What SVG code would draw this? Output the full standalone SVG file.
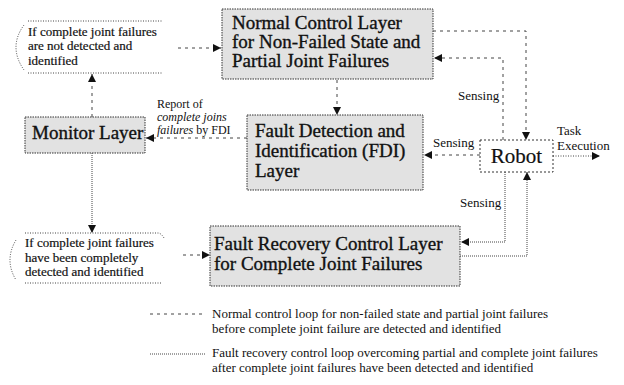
<svg xmlns="http://www.w3.org/2000/svg" width="624" height="385" viewBox="0 0 624 385" font-family="'Liberation Serif', 'Times New Roman', Times, serif">
<style>
.box{fill:#e2e2e2;stroke:#333;stroke-width:1;stroke-dasharray:1.5 1}
.robot{fill:#fff;stroke:#333;stroke-width:1;stroke-dasharray:2 2}
text{font-family:"Liberation Serif","Times New Roman",Times,serif;fill:#111}
.big{font-size:19px;stroke:#111;stroke-width:0.35}
.sm{font-size:13px;stroke:#111;stroke-width:0.2}
.lbl{font-size:13px}
.rep{font-size:12px}
.dash{fill:none;stroke:#444;stroke-width:1;stroke-dasharray:3 4}
.fine{fill:none;stroke:#444;stroke-width:1;stroke-dasharray:1 1}
.dot{fill:none;stroke:#444;stroke-width:1;stroke-dasharray:1 1.5}
</style>
<defs>
<marker id="ah" markerUnits="userSpaceOnUse" markerWidth="9" markerHeight="9" refX="8" refY="4" orient="auto">
<path d="M0,0 L8,4 L0,8 z" fill="#111"/>
</marker>
</defs>
<rect width="624" height="385" fill="#fff"/>

<g id="node-not-detected">
<path class="dot" d="M28,21 H162 M28,73 H162 M24,25 Q8,47 24,70"/>
<text class="sm" x="28" y="35.5">If complete joint failures</text>
<text class="sm" x="28" y="50">are not detected and</text>
<text class="sm" x="28" y="64.5">identified</text>
</g>

<g id="node-normal">
<rect class="box" x="222" y="9" width="211" height="70"/>
<text class="big" x="232" y="29">Normal Control Layer</text>
<text class="big" x="232" y="48">for Non-Failed State and</text>
<text class="big" x="232" y="67">Partial Joint Failures</text>
</g>

<g id="node-monitor">
<rect class="box" x="25" y="117" width="120" height="36"/>
<text class="big" x="32" y="139">Monitor Layer</text>
</g>

<g id="node-fdi">
<rect class="box" x="247" y="115" width="176" height="75"/>
<text class="big" x="255" y="137">Fault Detection and</text>
<text class="big" x="255" y="157">Identification (FDI)</text>
<text class="big" x="255" y="177">Layer</text>
</g>

<g id="node-robot">
<rect class="robot" x="480" y="140" width="73" height="32"/>
<text class="big" x="516.5" y="163" text-anchor="middle" style="font-size:21px;stroke-width:0.2">Robot</text>
</g>

<g id="node-detected">
<path class="dot" d="M25,233 H158 Q161,233 164,238 M25,283 H162 M16,240 Q4,260 16,280"/>
<text class="sm" x="25" y="247">If complete joint failures</text>
<text class="sm" x="25" y="261.5">have been completely</text>
<text class="sm" x="25" y="276">detected and identified</text>
</g>

<g id="node-recovery">
<rect class="box" x="210" y="226" width="250" height="60"/>
<text class="big" x="214" y="250">Fault Recovery Control Layer</text>
<text class="big" x="214" y="270">for Complete Joint Failures</text>
</g>

<g id="connectors">
<path class="dash" d="M178,48 H221" marker-end="url(#ah)"/>
<path class="dash" d="M337,80 V115" marker-end="url(#ah)"/>
<path class="dash" d="M247,138 H146" marker-end="url(#ah)"/>
<path class="dash" d="M92,117 V74" marker-end="url(#ah)"/>
<path class="fine" d="M92,153 V233" marker-end="url(#ah)"/>
<path class="dash" d="M183,255 H210" marker-end="url(#ah)"/>
<path class="dash" d="M433,31 H526 V140" marker-end="url(#ah)"/>
<path class="dash" d="M503,140 V58 H434" marker-end="url(#ah)"/>
<path class="dash" d="M480,155 H424" marker-end="url(#ah)"/>
<path class="dot" d="M553,156 H600" marker-end="url(#ah)"/>
<path class="fine" d="M505,172 V242 H461" marker-end="url(#ah)"/>
<path class="fine" d="M460,256 H527 V172" marker-end="url(#ah)"/>
</g>

<g id="labels">
<text class="lbl" x="458" y="100">Sensing</text>
<text class="lbl" x="433" y="147">Sensing</text>
<text class="lbl" x="460" y="207">Sensing</text>
<text class="lbl" x="557" y="135">Task</text>
<text class="lbl" x="557" y="150">Execution</text>
<text class="rep" x="157" y="108">Report of</text>
<text class="rep" x="157" y="121" font-style="italic">complete joins</text>
<text class="rep" x="157" y="134"><tspan font-style="italic">failures</tspan> by FDI</text>
</g>

<g id="legend">
<path class="dash" d="M150,314 H205"/>
<path class="fine" d="M150,354 H205"/>
<text class="lbl" x="212" y="318">Normal control loop for non-failed state and partial joint failures</text>
<text class="lbl" x="212" y="333">before complete joint failure are detected and identified</text>
<text class="lbl" x="212" y="357">Fault recovery control loop overcoming partial and complete joint failures</text>
<text class="lbl" x="212" y="372">after complete joint failures have been detected and identified</text>
</g>
</svg>
